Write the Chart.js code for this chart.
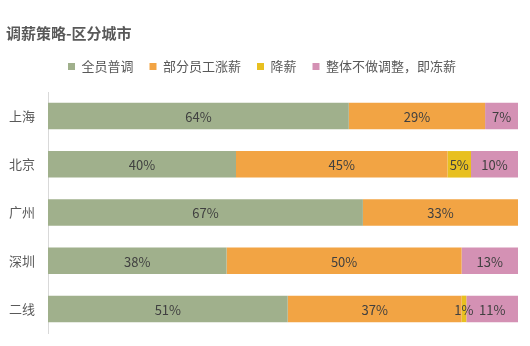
<!DOCTYPE html>
<html>
<head>
<meta charset="utf-8">
<script src="https://cdn.jsdelivr.net/npm/chart.js@4.4.0/dist/chart.umd.min.js"></script>
<style>
  html, body { margin: 0; padding: 0; background: #fff; }
  #wrap { width: 530px; height: 346px; position: relative; }
</style>
</head>
<body>
<div id="wrap"><canvas id="chart"></canvas></div>
<script>
  // categories + series (percent of employees)
  const cities = ["上海", "北京", "广州", "深圳", "二线"];
  const allStaff = [64, 40, 67, 38, 51];      // 全员普调
  const someStaff = [29, 45, 33, 50, 37];     // 部分员工涨薪
  const payCut = [0, 5, 0, 0, 1];             // 降薪
  const frozen = [7, 10, 0, 13, 11];          // 整体不做调整，即冻薪

  const FONT = "'Noto Sans CJK SC', 'Noto Sans', sans-serif";

  // draw the % label in the middle of each segment
  const segmentLabels = {
    id: "segmentLabels",
    afterDatasetsDraw(chart) {
      const ctx = chart.ctx;
      ctx.save();
      ctx.font = "13px " + FONT;
      ctx.fillStyle = "#404040";
      ctx.textAlign = "center";
      ctx.textBaseline = "middle";
      chart.data.datasets.forEach((ds, i) => {
        const meta = chart.getDatasetMeta(i);
        meta.data.forEach((bar, j) => {
          const v = ds.data[j];
          if (!v) return;
          const left = Math.min(bar.x, bar.base);
          const right = Math.min(Math.max(bar.x, bar.base), chart.chartArea.right);
          ctx.fillText(v + "%", (left + right) / 2, bar.y + 1);
        });
      });
      ctx.restore();
    }
  };

  // extra room below the legend only
  const legendGap = {
    id: "legendGap",
    afterInit(chart) {
      const fit = chart.legend.fit;
      chart.legend.fit = function () {
        fit.call(this);
        this.height += 9;
      };
    }
  };

  new Chart(document.getElementById("chart"), {
    type: "bar",
    data: {
      labels: cities,
      datasets: [
        { label: "全员普调", data: allStaff, backgroundColor: "#a0b08c" },
        { label: "部分员工涨薪", data: someStaff, backgroundColor: "#f2a444" },
        { label: "降薪", data: payCut, backgroundColor: "#e8c020" },
        { label: "整体不做调整，即冻薪", data: frozen, backgroundColor: "#d491b4" }
      ]
    },
    options: {
      indexAxis: "y",
      responsive: true,
      maintainAspectRatio: false,
      animation: false,
      datasets: { bar: { categoryPercentage: 1, barPercentage: 0.55, borderWidth: 0 } },
      layout: { padding: { left: 6, right: 12, top: 4, bottom: 13 } },
      scales: {
        x: {
          stacked: true,
          min: 0,
          max: 100,
          display: false
        },
        y: {
          stacked: true,
          grid: { display: false, drawTicks: false },
          border: { display: true, color: "#d9d9d9" },
          ticks: { color: "#595959", font: { family: FONT, size: 13 }, padding: 13 },
          afterFit(axis) {
            axis.width = 42;
            axis.paddingTop = 0;
            axis.paddingBottom = 0;
          }
        }
      },
      plugins: {
        title: {
          display: true,
          text: "调薪策略-区分城市",
          align: "start",
          color: "#595959",
          font: { family: FONT, size: 15, weight: "bold" },
          padding: { top: 20, bottom: 2 }
        },
        legend: {
          position: "top",
          labels: {
            color: "#595959",
            font: { family: FONT, size: 13 },
            boxWidth: 7,
            boxHeight: 7,
            padding: 16
          }
        },
        tooltip: { enabled: false }
      }
    },
    plugins: [segmentLabels, legendGap]
  });
</script>
</body>
</html>
